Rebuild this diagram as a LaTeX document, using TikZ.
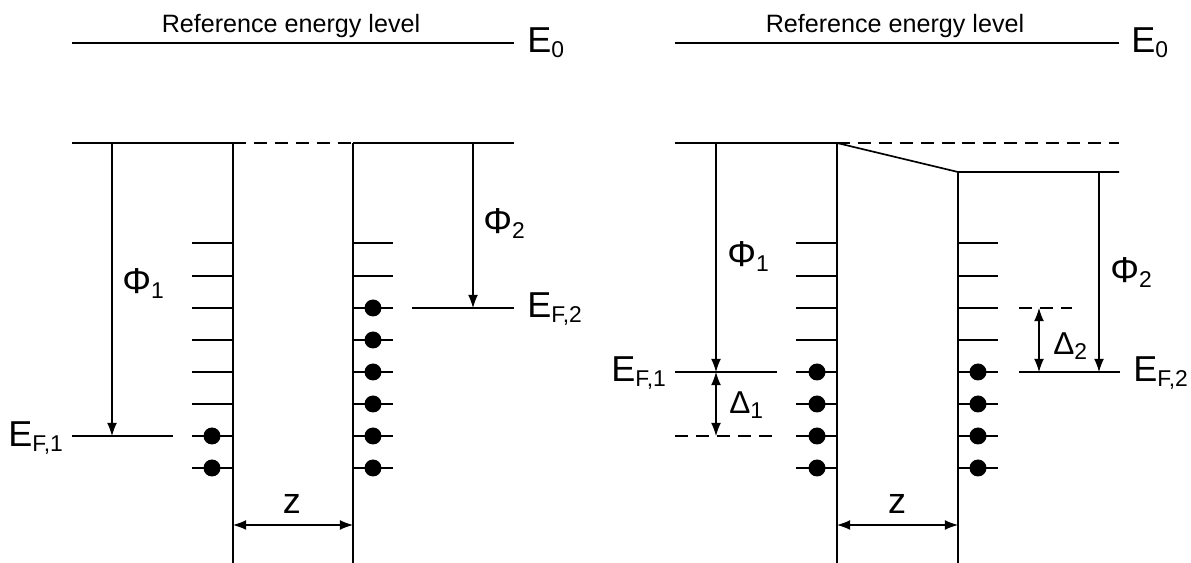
\documentclass[tikz,border=0pt]{standalone}
\usepackage{fontspec}
\setmainfont{Liberation Sans}
\usetikzlibrary{arrows.meta}

\newcommand{\elab}[3][20.5]{{\fontsize{#1}{#1}\selectfont #2}\raisebox{-0.1cm}{\fontsize{13}{13}\selectfont #3}}

\tikzset{
  level/.style={line width=0.95pt},
  dashlevel/.style={line width=0.95pt, dash pattern=on 7.4pt off 4.5pt},
  arr/.style={line width=0.6pt, -{Latex[length=7.5pt,width=5.6pt]}},
  darr/.style={line width=0.6pt, {Latex[length=7.5pt,width=5.6pt]}-{Latex[length=7.5pt,width=5.6pt]}},
  lab/.style={inner sep=0pt, anchor=base west},
  reftext/.style={inner sep=0pt, anchor=base, font=\fontsize{14.3}{15}\selectfont},
}

\begin{document}
\begin{tikzpicture}[x=0.02cm, y=-0.02cm]
    \useasboundingbox (0,0) rectangle (1191,563);
    % left: separated metals
    \draw[level] (72,43) -- (514,43);
    \node[reftext] (refA) at (291,33) {Reference energy level};
    \node[lab] (EzeroA) at (527,53) {\elab{E}{0}};
    \draw[level] (72,143) -- (233,143);
    \draw[dashlevel] (233,143) -- (353,143);
    \draw[level] (353,143) -- (514,143);
    \draw[level] (233,143) -- (233,563);
    \draw[level] (353,143) -- (353,563);
    \foreach \y in {243,276,308,340,372,404,436,468} {
        \draw[level] (192,\y) -- (233,\y);
        \draw[level] (353,\y) -- (393,\y);
    }
    \foreach \y in {436,468}
        \fill (212,\y) circle (0.17cm);
    \foreach \y in {308,340,372,404,436,468}
        \fill (373,\y) circle (0.17cm);
    \draw[level] (72,436) -- (173,436);
    \draw[level] (412,308) -- (514,308);
    \node[lab] (EfA) at (8,447) {\elab{E}{F,1}};
    \node[lab] (EfB) at (527,318) {\elab{E}{F,2}};
    \draw[arr] (112,143) -- (112,436);
    \node[lab] (PhiA) at (122,294) {\elab{Φ}{1}};
    \draw[arr] (473,143) -- (473,308);
    \node[lab] (PhiB) at (483,234) {\elab{Φ}{2}};
    \draw[darr] (233,525) -- (353,525);
    \node[lab, anchor=base] (zA) at (292,514) {\fontsize{20.5}{20}\selectfont z};

    % right: metals in contact
    \draw[level] (675,43) -- (1119,43);
    \node[reftext] (refB) at (895,33) {Reference energy level};
    \node[lab] (EzeroB) at (1131,53) {\elab{E}{0}};
    \draw[level] (675,143) -- (837,143);
    \draw[dashlevel] (837,143) -- (1119,143);
    \draw[level] (837,143) -- (958,172) -- (1119,172);
    \draw[level] (837,143) -- (837,563);
    \draw[level] (958,172) -- (958,563);
    \foreach \y in {243,276,308,340,372,404,436,468} {
        \draw[level] (796,\y) -- (837,\y);
        \draw[level] (958,\y) -- (998,\y);
    }
    \foreach \y in {372,404,436,468} {
        \fill (817,\y) circle (0.17cm);
        \fill (978,\y) circle (0.17cm);
    }
    \draw[level] (675,372) -- (777,372);
    \draw[dashlevel] (675,436) -- (777,436);
    \draw[level] (1019,372) -- (1120,372);
    \draw[dashlevel] (1019,308) -- (1072,308);
    \node[lab] (EfC) at (611,382) {\elab{E}{F,1}};
    \node[lab] (EfD) at (1133,382) {\elab{E}{F,2}};
    \draw[arr] (716,143) -- (716,372);
    \node[lab] (PhiC) at (727,267) {\elab{Φ}{1}};
    \draw[darr] (716,372) -- (716,436);
    \node[lab] (DeltaA) at (729,414) {\elab[18]{Δ}{1}};
    \draw[arr] (1099,172) -- (1099,372);
    \node[lab] (PhiD) at (1110,283) {\elab{Φ}{2}};
    \draw[darr] (1039,308) -- (1039,372);
    \node[lab] (DeltaB) at (1053,355) {\elab[18]{Δ}{2}};
    \draw[darr] (837,525) -- (958,525);
    \node[lab, anchor=base] (zB) at (897,514) {\fontsize{20.5}{20}\selectfont z};
\end{tikzpicture}
\end{document}
